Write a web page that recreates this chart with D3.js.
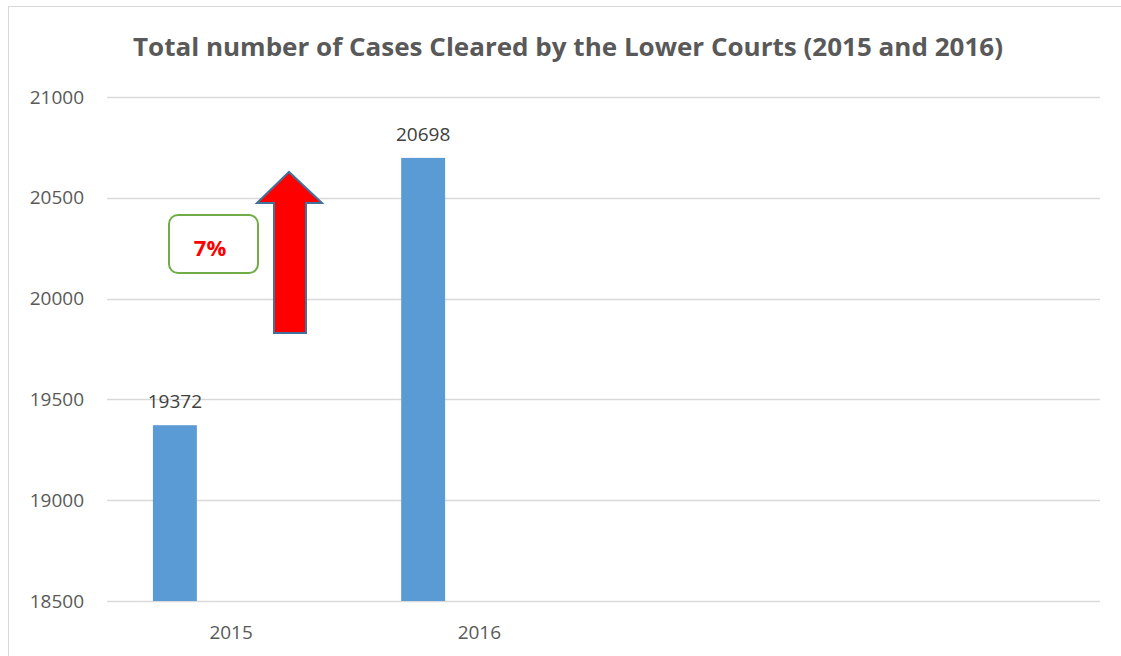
<!DOCTYPE html>
<html>
<head>
<meta charset="utf-8">
<script src="https://cdn.jsdelivr.net/npm/d3@7"></script>
<style>
  body { margin: 0; background: #fff; }
  text { font-family: "Open Sans", "DejaVu Sans", sans-serif; }
</style>
</head>
<body>
<script>
// chart values
var categories = ["2015", "2016", "c3", "c4"];
var cleared = [19372, 20698];
var yTicks = [18500, 19000, 19500, 20000, 20500, 21000];
var title = "Total number of Cases Cleared by the Lower Courts (2015 and 2016)";
var changeLabel = "7%";

var w = 1121, h = 656;
var margin = { left: 107, right: 21, top: 97, bottom: 55 };

var svg = d3.select("body").append("svg").attr("width", w).attr("height", h);

// chart border
svg.append("rect")
  .attr("x", 8.5).attr("y", 6.5)
  .attr("width", w + 20).attr("height", h + 20)
  .attr("fill", "none").attr("stroke", "#d9d9d9");

var x = d3.scaleBand()
  .domain(categories)
  .range([margin.left, w - margin.right]);

var y = d3.scaleLinear()
  .domain([18500, 21000])
  .range([h - margin.bottom, margin.top]);

// gridlines
svg.append("g").selectAll("line")
  .data(yTicks)
  .enter().append("line")
  .attr("x1", margin.left).attr("x2", w - margin.right)
  .attr("y1", function(d) { return Math.round(y(d)) + 0.5; })
  .attr("y2", function(d) { return Math.round(y(d)) + 0.5; })
  .attr("stroke", "#d9d9d9").attr("stroke-width", 1.5);

// y labels
svg.append("g").selectAll("text")
  .data(yTicks)
  .enter().append("text")
  .attr("x", 84)
  .attr("y", function(d) { return y(d); })
  .attr("dy", "0.35em")
  .attr("text-anchor", "end")
  .attr("fill", "#595959")
  .style("font-size", "19px")
  .text(function(d) { return d; });

// x labels (only real years)
svg.append("g").selectAll("text")
  .data(categories.slice(0, 2))
  .enter().append("text")
  .attr("x", function(d) { return x(d) + x.bandwidth() / 2; })
  .attr("y", 639)
  .attr("text-anchor", "middle")
  .attr("fill", "#595959")
  .style("font-size", "19px")
  .text(function(d) { return d; });

// bars sit in the left part of each category slot
var barW = x.bandwidth() * 0.177;
var barOff = x.bandwidth() * 0.185;

svg.append("g").selectAll("rect")
  .data(cleared)
  .enter().append("rect")
  .attr("x", function(d, i) { return x(categories[i]) + barOff; })
  .attr("y", function(d) { return y(d); })
  .attr("width", barW)
  .attr("height", function(d) { return y(18500) - y(d); })
  .attr("fill", "#5b9bd5");

svg.append("g").selectAll("text")
  .data(cleared)
  .enter().append("text")
  .attr("x", function(d, i) { return x(categories[i]) + barOff + barW / 2; })
  .attr("y", function(d) { return y(d) - 17; })
  .attr("text-anchor", "middle")
  .attr("fill", "#404040")
  .style("font-size", "19px")
  .text(function(d) { return d; });

// title
svg.append("text")
  .attr("x", 568).attr("y", 56)
  .attr("text-anchor", "middle")
  .attr("fill", "#595959")
  .attr("textLength", 870)
  .attr("lengthAdjust", "spacingAndGlyphs")
  .style("font-size", "25px")
  .style("font-weight", "bold")
  .text(title);

// change annotation box
svg.append("rect")
  .attr("x", 169).attr("y", 215)
  .attr("width", 89).attr("height", 58)
  .attr("rx", 9)
  .attr("fill", "#fff")
  .attr("stroke", "#70ad47").attr("stroke-width", 2);

svg.append("text")
  .attr("x", 210).attr("y", 256)
  .attr("text-anchor", "middle")
  .attr("fill", "#ff0000")
  .style("font-size", "22px")
  .style("font-weight", "bold")
  .text(changeLabel);

// up arrow
var arrow = [[274, 333], [274, 203], [257, 203], [289, 172], [322, 203], [306, 203], [306, 333]];
svg.append("path")
  .attr("d", d3.line()(arrow) + "Z")
  .attr("fill", "#ff0000")
  .attr("stroke", "#41719c")
  .attr("stroke-width", 2);
</script>
</body>
</html>
